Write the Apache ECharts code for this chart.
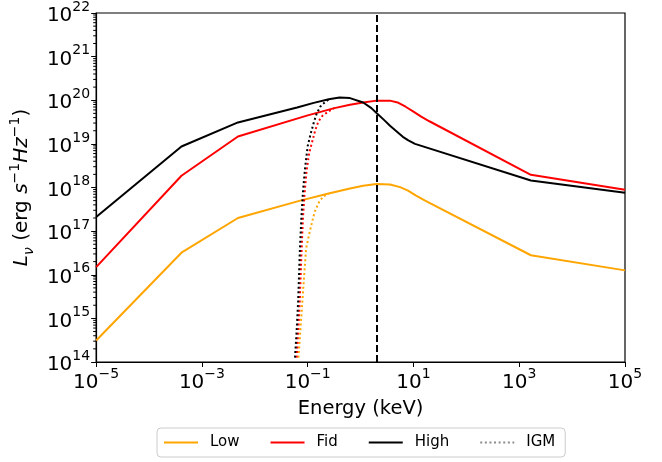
<!DOCTYPE html>
<html>
<head>
<meta charset="utf-8">
<script src="https://cdn.jsdelivr.net/npm/echarts@6/dist/echarts.min.js"></script>
<style>
  html, body { margin: 0; padding: 0; background: #fff; }
  #chart { width: 662px; height: 462px; }
</style>
</head>
<body>
<div id="chart"></div>
<script>
// Spectral luminosity L_nu (erg s^-1 Hz^-1) against photon energy (keV)
// for three source models, plus the IGM-absorbed low-energy cut-offs.

const lowSED = [[1e-5, 3.1e14], [4.1e-4, 3.2e16], [4.8e-3, 2.0e17], [0.072, 5.0e17], [0.26, 7.4e17],
  [0.63, 9.5e17], [1.12, 1.10e18], [2.0, 1.20e18], [3.6, 1.17e18], [5.6, 1.02e18], [7.9, 8.5e17],
  [11, 6.6e17], [16.6, 5.0e17], [1660, 2.8e16], [1e5, 1.26e16]];

const fidSED = [[1e-5, 1.5e16], [4.1e-4, 1.86e18], [4.8e-3, 1.48e19], [0.1, 4.5e19], [0.32, 6.6e19],
  [0.63, 7.9e19], [1.12, 8.9e19], [2.0, 9.8e19], [3.6, 9.8e19], [5.0, 8.9e19], [7.1, 7.1e19],
  [10, 5.5e19], [14, 4.2e19], [20, 3.3e19], [1660, 1.95e18], [1e5, 8.9e17]];

const highSED = [[1e-5, 2.1e17], [4.1e-4, 8.7e18], [4.8e-3, 3.1e19], [0.063, 6.8e19], [0.13, 8.7e19],
  [0.25, 1.05e20], [0.40, 1.15e20], [0.63, 1.12e20], [1.12, 8.9e19], [1.6, 6.6e19], [2.0, 5.1e19],
  [2.8, 3.5e19], [3.6, 2.6e19], [5.0, 1.85e19], [6.3, 1.45e19], [8.0, 1.2e19], [10.7, 1.0e19],
  [1660, 1.45e18], [1e5, 7.6e17]];

const lowIGM = [[0.0668, 1.26e14], [0.0724, 5e14], [0.0794, 2.5e15], [0.087, 1.26e16], [0.0933, 4e16],
  [0.11, 1e17], [0.135, 2.75e17], [0.166, 4.8e17], [0.2, 6.3e17], [0.25, 7.2e17]];

const fidIGM = [[0.0617, 1.26e14], [0.066, 5e14], [0.0708, 2.5e15], [0.0759, 2.8e16], [0.0813, 2.0e17],
  [0.087, 7.1e17], [0.0955, 2.5e18], [0.107, 6.3e18], [0.12, 1.05e19], [0.138, 2.0e19],
  [0.158, 3.2e19], [0.19, 4.4e19], [0.245, 5.5e19], [0.316, 6.6e19]];

const highIGM = [[0.0575, 1.26e14], [0.0617, 5.0e14], [0.066, 2.5e15], [0.0708, 3.2e16], [0.0759, 2.0e17],
  [0.0813, 7.9e17], [0.0891, 2.8e18], [0.1, 8.9e18], [0.112, 1.58e19], [0.129, 2.95e19],
  [0.148, 5.0e19], [0.174, 7.2e19], [0.209, 8.9e19], [0.25, 1.05e20]];

// Energy of the vertical reference line (keV)
const markerEnergy = [2.0];

const legendNames = ['Low', 'Fid', 'High', 'IGM'];
const colors = { Low: '#ffa500', Fid: '#ff0000', High: '#000000', IGM: '#8c8c8c' };

const X_MIN = 1e-5, X_MAX = 1e5, Y_MIN = 1e14, Y_MAX = 1e22;
const FONT = 'DejaVu Sans';

// Minor tick positions at 2..9 x 10^n on the luminosity axis
const yMinorTicks = [];
for (let e = 14; e < 22; e++) {
  for (let m = 2; m <= 9; m++) yMinorTicks.push([X_MIN, m * Math.pow(10, e)]);
}

function powLabel(v) {
  const exp = Math.round(Math.log10(v));
  return '{b|10}{s|' + String(exp).replace('-', '\u2212') + '}';
}

const tickRich = {
  b: { fontFamily: FONT, fontSize: 20, color: '#000', lineHeight: 26, verticalAlign: 'bottom' },
  s: { fontFamily: FONT, fontSize: 14, color: '#000', lineHeight: 15, verticalAlign: 'top' }
};

function solid(name, data) {
  return {
    name, type: 'line', data, symbol: 'none', smooth: false, z: 3,
    lineStyle: { color: colors[name], width: 2 }, itemStyle: { color: colors[name] }
  };
}

function dotted(name, color, data) {
  return {
    name, type: 'line', data, symbol: 'none', smooth: false, z: 4,
    lineStyle: { color, width: 2, type: [2, 2.6] }, itemStyle: { color }
  };
}

const chart = echarts.init(document.getElementById('chart'), null, { renderer: 'canvas' });

chart.setOption({
  animation: false,
  backgroundColor: '#fff',
  grid: { left: 96, right: 37, top: 12, bottom: 100, show: true, borderColor: '#000', borderWidth: 1.2, containLabel: false },
  legend: {
    data: legendNames,
    left: 157, top: 428,
    itemWidth: 34, itemHeight: 16, itemGap: 30,
    padding: [7, 10, 7, 6],
    itemStyle: { opacity: 0 },
    lineStyle: { width: 2 },
    backgroundColor: '#fff', borderColor: '#cccccc', borderWidth: 1, borderRadius: 4,
    textStyle: { fontFamily: FONT, fontSize: 15, color: '#000', padding: [0, 0, 0, 7] }
  },
  xAxis: {
    type: 'log', logBase: 10, min: X_MIN, max: X_MAX, interval: 2,
    name: 'Energy (keV)', nameLocation: 'middle', nameGap: 37,
    nameTextStyle: { fontFamily: FONT, fontSize: 19.5, color: '#000' },
    axisLine: { show: true, lineStyle: { color: '#000', width: 1.2 } },
    axisTick: { show: true, length: 5, lineStyle: { color: '#000', width: 1 } },
    axisLabel: { formatter: powLabel, rich: tickRich, margin: 5 },
    splitLine: { show: false }, minorTick: { show: false }
  },
  yAxis: {
    type: 'log', logBase: 10, min: Y_MIN, max: Y_MAX, interval: 1,
    name: '{i|L}{sub|\u03bd}{n| (erg }{i|s}{sup|\u22121}{i|Hz}{sup|\u22121}{n|)}',
    nameLocation: 'middle', nameRotate: 90, nameGap: 58,
    nameTextStyle: {
      fontFamily: FONT, fontSize: 20, color: '#000',
      rich: {
        n: { fontFamily: FONT, fontSize: 20, color: '#000', lineHeight: 28 },
        i: { fontFamily: FONT, fontSize: 20, fontStyle: 'italic', color: '#000', lineHeight: 28 },
        sub: { fontFamily: FONT, fontSize: 14, fontStyle: 'italic', color: '#000', lineHeight: 17, verticalAlign: 'bottom' },
        sup: { fontFamily: FONT, fontSize: 14, color: '#000', lineHeight: 17, verticalAlign: 'top' }
      }
    },
    axisLine: { show: true, lineStyle: { color: '#000', width: 1.2 } },
    axisTick: { show: true, length: 5, lineStyle: { color: '#000', width: 1 } },
    axisLabel: { formatter: powLabel, rich: tickRich, margin: 6 },
    splitLine: { show: false }, minorTick: { show: false }
  },
  series: [
    solid('Low', lowSED),
    solid('Fid', fidSED),
    Object.assign(solid('High', highSED), {
      markLine: {
        silent: true, symbol: 'none', label: { show: false }, z: 10,
        lineStyle: { color: '#000', width: 2, type: [7, 3] },
        data: markerEnergy.map(e => ({ xAxis: e }))
      }
    }),
    dotted('Low IGM', colors.Low, lowIGM),
    dotted('Fid IGM', colors.Fid, fidIGM),
    dotted('High IGM', colors.High, highIGM),
    dotted('IGM', colors.IGM, []),
    {
      name: 'yMinor', type: 'custom', silent: true, clip: false, z: 6,
      data: yMinorTicks,
      renderItem: (params, api) => {
        const p = api.coord([api.value(0), api.value(1)]);
        return { type: 'line', shape: { x1: p[0] - 3, y1: p[1], x2: p[0], y2: p[1] }, style: { stroke: '#000', lineWidth: 1 } };
      }
    }
  ]
});
</script>
</body>
</html>
